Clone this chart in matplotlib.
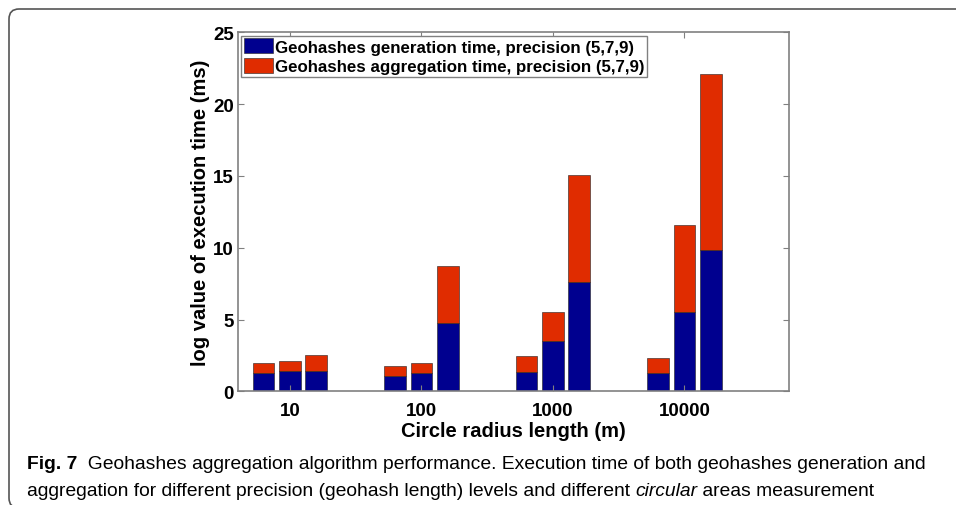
import numpy as np
import matplotlib
matplotlib.use("Agg")
import matplotlib.pyplot as plt
from matplotlib.patches import FancyBboxPatch

# values (log scale of ms)
radius_labels = ["10", "100", "1000", "10000"]
gen_time = [[1.25, 1.39, 1.39],
            [1.09, 1.25, 4.76],
            [1.34, 3.52, 7.59],
            [1.25, 5.52, 9.86]]
total_time = [[1.95, 2.09, 2.53],
              [1.78, 1.95, 8.73],
              [2.46, 5.52, 15.08],
              [2.32, 11.6, 22.07]]
y_ticks = [0, 5, 10, 15, 20, 25]

blue = "#00008f"
red = "#e02c00"
plt.rcParams['font.family'] = ['Liberation Sans', 'DejaVu Sans']

fig = plt.figure(figsize=(9.56, 5.06), dpi=100)
ax = fig.add_axes([238/956, 1-392.3/506, 551/956, 359/506])

gen = np.array(gen_time)
agg = np.array(total_time) - gen
pos = np.arange(1, len(radius_labels) + 1)
offsets = [-0.2, 0.0, 0.2]
w = 0.165
for k, off in enumerate(offsets):
    lab1 = "Geohashes generation time, precision (5,7,9)" if k == 0 else None
    lab2 = "Geohashes aggregation time, precision (5,7,9)" if k == 0 else None
    ax.bar(pos + off, gen[:, k], w, color=blue, edgecolor="#202020", linewidth=0.4, label=lab1)
    ax.bar(pos + off, agg[:, k], w, bottom=gen[:, k], color=red, edgecolor="#202020", linewidth=0.4, label=lab2)

ax.set_xlim(0.605, 4.795)
ax.set_ylim(0, 25)
ax.set_xticks(pos)
ax.set_xticklabels(radius_labels)
ax.set_yticks(y_ticks)
ax.tick_params(direction="in", top=True, right=True, length=4, color="#808080",
               labelsize=13.5)
ax.tick_params(axis="x", pad=8)
ax.tick_params(axis="y", pad=3)
for t in ax.get_xticklabels() + ax.get_yticklabels():
    t.set_fontweight("bold")
for s in ax.spines.values():
    s.set_color("#808080")
    s.set_linewidth(1.2)

ax.set_xlabel("Circle radius length (m)", fontsize=14.5, fontweight="bold", labelpad=1)
ax.set_ylabel("log value of execution time (ms)", fontsize=14.5, fontweight="bold", labelpad=2)

leg = ax.legend(loc="upper left", prop={"weight": "bold", "size": 12.2}, fancybox=False,
                edgecolor="#808080", framealpha=1, borderpad=0.15, labelspacing=0.2,
                handlelength=1.7, handleheight=1.0, handletextpad=0.15, borderaxespad=0.2)
leg.get_frame().set_linewidth(1.0)

# rounded frame around the figure block
frame = FancyBboxPatch((0.09, -0.03), 10.0, 4.99, boxstyle="round,pad=0,rounding_size=0.1",
                       transform=fig.dpi_scale_trans, fill=False, edgecolor="#555555",
                       linewidth=1.2, clip_on=False)
fig.patches.append(frame)

# caption with mixed styles
cap_font = ['Liberation Sans', 'DejaVu Sans']
fig.canvas.draw()
r = fig.canvas.get_renderer()

def put(x, y, s, **kw):
    t = fig.text(x/956, 1-y/506, s, fontsize=13.9, family=cap_font, va="baseline", **kw)
    bb = t.get_window_extent(r)
    return x + bb.width

x = put(27, 469, "Fig. 7", fontweight="bold")
put(x, 469, "  Geohashes aggregation algorithm performance. Execution time of both geohashes generation and")
x = put(27, 496, "aggregation for different precision (geohash length) levels and different ")
x = put(x, 496, "circular", style="italic")
put(x, 496, " areas measurement")

fig.savefig("out.png", dpi=100)
